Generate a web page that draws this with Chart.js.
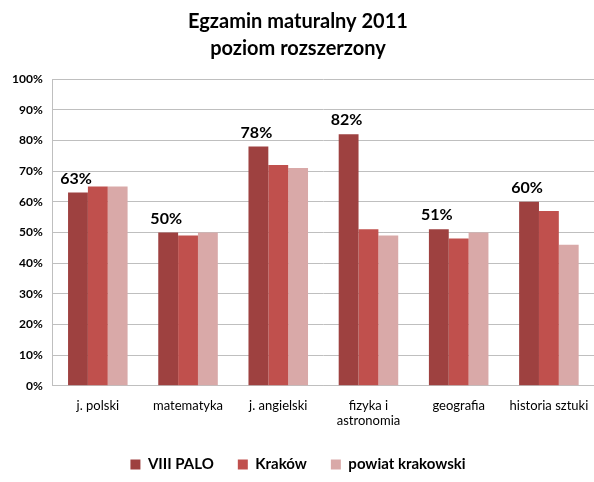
<!DOCTYPE html>
<html>
<head>
<meta charset="utf-8">
<script src="https://cdn.jsdelivr.net/npm/chart.js@4"></script>
<style>
  html, body { margin: 0; padding: 0; background: #fff; }
  #wrap { width: 594px; height: 482px; }
</style>
</head>
<body>
<div id="wrap"><canvas id="examChart"></canvas></div>
<script>
// Chart data
const subjects = ["j. polski", "matematyka", "j. angielski", ["fizyka i", "astronomia"], "geografia", "historia sztuki"]
const palo = [63, 50, 78, 82, 51, 60]
const krakow = [65, 49, 72, 51, 48, 57]
const powiat = [65, 50, 71, 49, 50, 46]
const yTicks = [0, 10, 20, 30, 40, 50, 60, 70, 80, 90, 100]

const fontName = "Lato, 'Open Sans', sans-serif"

// labels above the first series only
const topLabels = {
    id: "topLabels",
    afterDatasetsDraw(chart) {
        const ctx = chart.ctx
        const meta = chart.getDatasetMeta(0)
        ctx.save()
        ctx.font = "bold 16px " + fontName
        ctx.fillStyle = "#000"
        ctx.textAlign = "center"
        ctx.textBaseline = "bottom"
        meta.data.forEach((bar, i) => {
            ctx.fillText(palo[i] + "%", bar.x - 2, bar.y - 6)
        })
        ctx.restore()
    }
}

const ctx = document.getElementById("examChart").getContext("2d")
new Chart(ctx, {
    type: "bar",
    data: {
        labels: subjects,
        datasets: [
            { label: "VIII PALO", data: palo, backgroundColor: "#9E4140" },
            { label: "Kraków", data: krakow, backgroundColor: "#C0504D" },
            { label: "powiat krakowski", data: powiat, backgroundColor: "#D9A9A8" }
        ]
    },
    options: {
        responsive: true,
        maintainAspectRatio: false,
        animation: false,
        categoryPercentage: 0.66,
        barPercentage: 1,
        layout: { padding: { left: 2, right: 0, top: 0, bottom: 0 } },
        plugins: {
            title: {
                display: true,
                text: ["Egzamin maturalny 2011", "poziom rozszerzony"],
                color: "#000",
                font: { family: fontName, size: 20, weight: "bold", lineHeight: 1.35 },
                padding: { top: 8, bottom: 17 }
            },
            legend: {
                position: "bottom",
                labels: {
                    color: "#000",
                    boxWidth: 10,
                    boxHeight: 10,
                    padding: 24,
                    font: { family: fontName, size: 15, weight: "bold" }
                }
            },
            tooltip: { enabled: false }
        },
        scales: {
            x: {
                grid: { display: false },
                border: { color: "#BFBFBF" },
                ticks: {
                    color: "#000",
                    padding: 4,
                    font: { family: fontName, size: 13 },
                    maxRotation: 0,
                    autoSkip: false
                }
            },
            y: {
                min: 0,
                max: 100,
                afterBuildTicks: axis => { axis.ticks = yTicks.map(v => ({ value: v })) },
                grid: { color: "#BFBFBF", drawTicks: false },
                border: { color: "#BFBFBF" },
                ticks: {
                    color: "#000",
                    padding: 10,
                    font: { family: fontName, size: 12, weight: "bold" },
                    callback: v => v + "%"
                }
            }
        }
    },
    plugins: [topLabels]
})
</script>
</body>
</html>
